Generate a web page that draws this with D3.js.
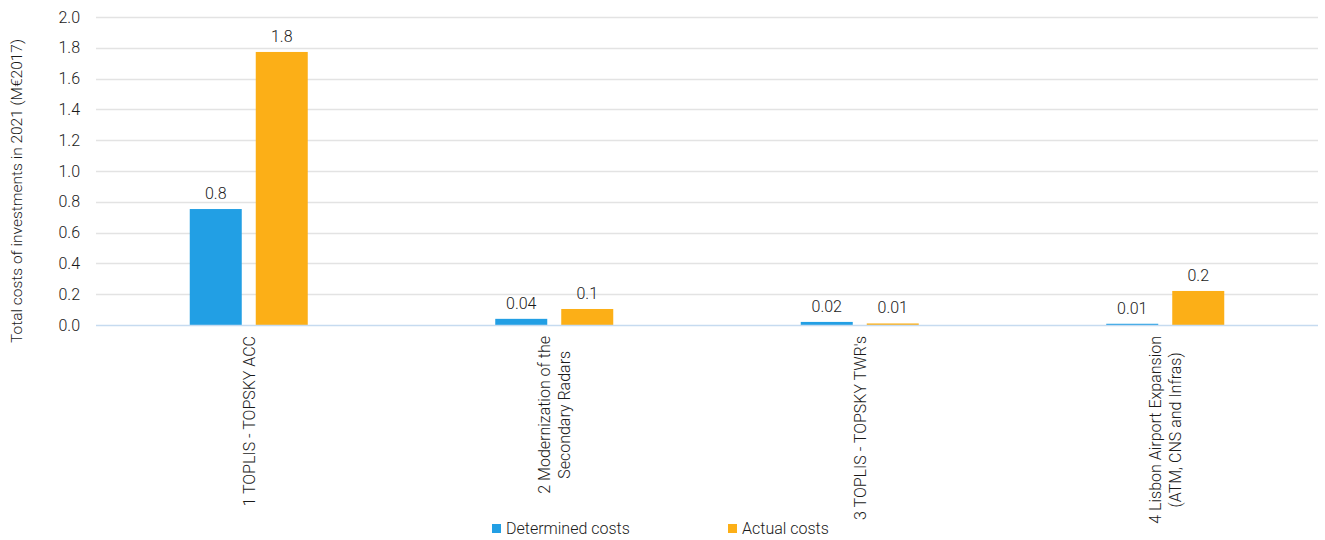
<!DOCTYPE html>
<html><head><meta charset="utf-8">
<script src="https://cdn.jsdelivr.net/npm/d3@7"></script>
<style>
html,body{margin:0;padding:0;background:#fff;}
text{font-family:Roboto,"Liberation Sans",Arial,sans-serif;font-weight:300;fill:#1a1a1a;}
</style></head>
<body>
<svg id="chart" width="1325" height="540"></svg>
<script>
const categories = [
  ["1 TOPLIS - TOPSKY ACC"],
  ["2 Modernization of the", "Secondary Radars"],
  ["3 TOPLIS - TOPSKY TWR's"],
  ["4 Lisbon Airport Expansion", "(ATM, CNS and Infras)"]
];
const seriesNames = ["Determined costs", "Actual costs"];
const determined = [0.753, 0.04, 0.02, 0.008];
const actual = [1.773, 0.104, 0.01, 0.221];
const yTicks = [0, 0.2, 0.4, 0.6, 0.8, 1.0, 1.2, 1.4, 1.6, 1.8, 2.0];
const yTitle = "Total costs of investments in 2021 (M€2017)";
const colors = ["#229fe4", "#fcaf17"];
const FS = 16;

const svg = d3.select("#chart");
const m = {left: 96, right: 1318, top: 17, bottom: 325};
const x0 = d3.scaleBand().domain(d3.range(categories.length)).range([m.left, m.right]);
const y = d3.scaleLinear().domain([0, 2]).range([m.bottom, m.top]);
const barW = 52, gap = 14;

// grid
svg.append("g").selectAll("line").data(yTicks.filter(d => d > 0)).join("line")
  .attr("x1", m.left).attr("x2", m.right)
  .attr("y1", d => Math.round(y(d)) + 0.5).attr("y2", d => Math.round(y(d)) + 0.5)
  .attr("stroke", "#e3e3e3").attr("stroke-width", 1.3);

// y axis
const yAxis = d3.axisLeft(y).tickValues(yTicks).tickFormat(d3.format(".1f")).tickSize(0).tickPadding(0);
const ga = svg.append("g").attr("transform", `translate(${m.left - 16},0)`).call(yAxis);
ga.select(".domain").remove();
ga.selectAll("text").attr("font-size", FS).attr("fill", "#1a1a1a")
  .style("font-family", 'Roboto,"Liberation Sans",Arial,sans-serif').style("font-weight", 300);

// bars
const series = [determined, actual];
const fmt = v => v >= 0.1 ? v.toFixed(1) : v.toFixed(2);
series.forEach((vals, si) => {
  const g = svg.append("g");
  g.selectAll("rect").data(vals).join("rect")
    .attr("x", (d, i) => x0(i) + x0.bandwidth()/2 + (si === 0 ? -(barW + gap/2) : gap/2))
    .attr("width", barW)
    .attr("y", d => y(d))
    .attr("height", d => Math.max(0, y(0) - y(d)))
    .attr("fill", colors[si]);
  g.selectAll("text").data(vals).join("text")
    .attr("x", (d, i) => x0(i) + x0.bandwidth()/2 + (si === 0 ? -(barW/2 + gap/2) : barW/2 + gap/2))
    .attr("y", d => y(d) - 10)
    .attr("text-anchor", "middle")
    .attr("font-size", FS)
    .text(d => fmt(d));
});

// baseline
svg.append("line").attr("x1", m.left).attr("x2", m.right)
  .attr("y1", y(0) + 0.5).attr("y2", y(0) + 0.5)
  .attr("stroke", "#c6dbf0").attr("stroke-width", 1.3);

// category labels
categories.forEach((lines, i) => {
  const cx = x0(i) + x0.bandwidth()/2;
  const g = svg.append("g");
  const tmp = lines.map(l => g.append("text").attr("font-size", FS).text(l));
  const L = d3.max(tmp, t => t.node().getComputedTextLength());
  tmp.forEach(t => t.remove());
  const lh = 20;
  const cy = 336 + L/2;
  lines.forEach((l, j) => {
    const off = (j - (lines.length - 1)/2) * lh;
    g.append("text")
      .attr("transform", `translate(${cx + off + 6},${cy}) rotate(-90)`)
      .attr("text-anchor", "middle")
      .attr("font-size", FS)
      .text(l);
  });
});

// y title
svg.append("text")
  .attr("transform", `translate(22,191) rotate(-90)`)
  .attr("text-anchor", "middle").attr("font-size", 15.5)
  .text(yTitle);

// legend
const legendX = [492, 728];
seriesNames.forEach((n, i) => {
  svg.append("rect").attr("x", legendX[i]).attr("y", 524).attr("width", 9).attr("height", 9).attr("fill", colors[i]);
  svg.append("text").attr("x", legendX[i] + 14).attr("y", 534).attr("font-size", FS).text(n);
});
</script>
</body></html>
